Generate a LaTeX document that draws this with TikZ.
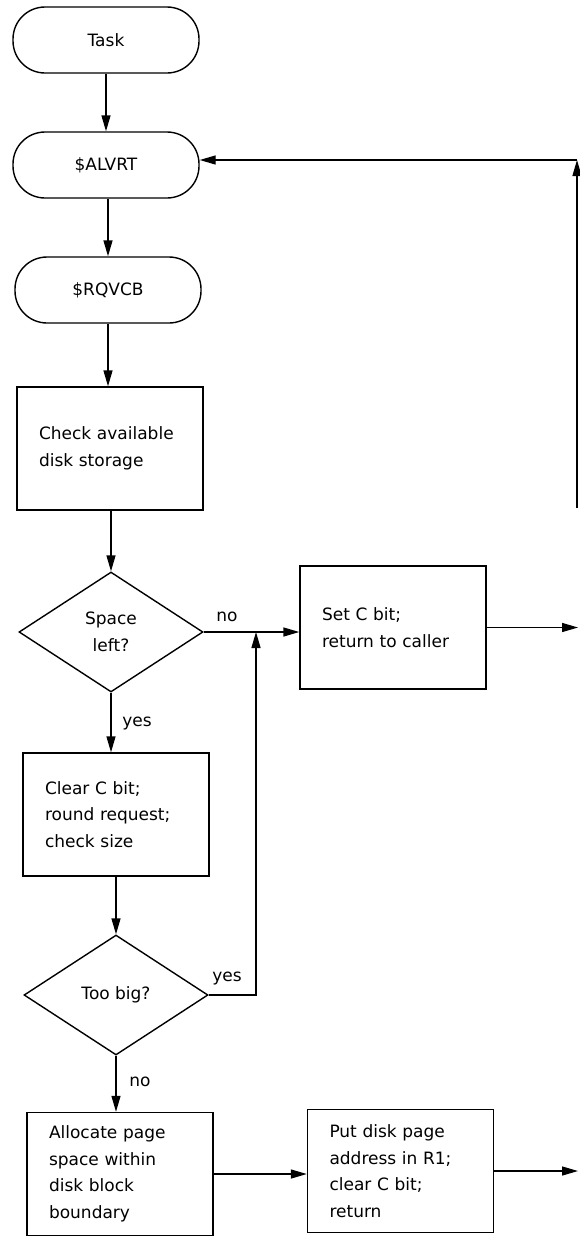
\documentclass[tikz,border=0pt]{standalone}
\usepackage{fontspec}
\setmainfont{DejaVu Sans}
\usetikzlibrary{arrows.meta,shapes.geometric}
\begin{document}
\begin{tikzpicture}[x=1pt,y=-1pt,
  every node/.style={font=\fontsize{17}{26.5}\selectfont},
  term/.style={draw, line width=1.4pt, rounded corners=32pt, minimum width=186pt, minimum height=66pt, inner sep=0pt},
  proc/.style={draw, line width=1.4pt, minimum height=123pt, text width=142pt, inner xsep=22pt, inner ysep=0pt, align=left},
  dec/.style={draw, line width=1.4pt, diamond, inner sep=0pt, minimum width=184pt, minimum height=120pt, align=center},
  arr/.style={line width=1.4pt, -{Triangle[length=16pt,width=9pt]}},
  lbl/.style={inner sep=0pt}
]
\useasboundingbox (0,0) rectangle (579,1237);

\node[term] (task)  at (106,40)  {Task};
\node[term] (alvrt) at (106,165) {\$ALVRT};
\node[term] (rqvcb) at (108,290) {\$RQVCB};
\node[proc] (check) at (110,448.5) {Check available\\disk storage};
\node[dec]  (space) at (111,632) {Space\\left?};
\node[proc] (setc)  at (393,627.5) {Set C bit;\\return to caller};
\node[proc] (clear) at (116,814.5) {Clear C bit;\\round request;\\check size};
\node[dec]  (big)   at (116,995) {Too big?};
\node[proc] (alloc) at (120,1174) {Allocate page\\space within\\disk block\\boundary};
\node[proc] (put)   at (400.5,1171) {Put disk page\\address in R1;\\clear C bit;\\return};

\node[lbl] (lno1)  at (227,617)  {no};
\node[lbl] (lyes1) at (137,723)  {yes};
\node[lbl] (lyes2) at (227,978)  {yes};
\node[lbl] (lno2)  at (140,1082) {no};

\coordinate (jn) at (256,632);
\coordinate (rr) at (578,0);
\coordinate (rb) at (577,508);
\coordinate (rt) at (577,160);

\draw[arr] (task) -- (alvrt);
\draw[arr] (alvrt.south -| rqvcb.north) -- (rqvcb.north);
\draw[arr] (rqvcb.south) -- (rqvcb.south |- check.north);
\draw[arr] (check.south -| space.north) -- (space.north);
\draw[arr] (space.east) -- (space.east -| setc.west);
\draw[arr] (space.south) -- (space.south |- clear.north);
\draw[arr] (clear.south -| big.north) -- (big.north);
\draw[arr] (big.east) -- (big.east -| jn) -- (jn);
\draw[arr] (big.south) -- (big.south |- alloc.north);
\draw[arr] (alloc.east) -- (alloc.east -| put.west);
\draw[arr] (setc.east) -- (setc.east -| rr);
\draw[arr] (put.east) -- (put.east -| rr);
\draw[arr] (rb) -- (rt);
\draw[arr] (rt) -- (rt -| alvrt.east);
\end{tikzpicture}
\end{document}
